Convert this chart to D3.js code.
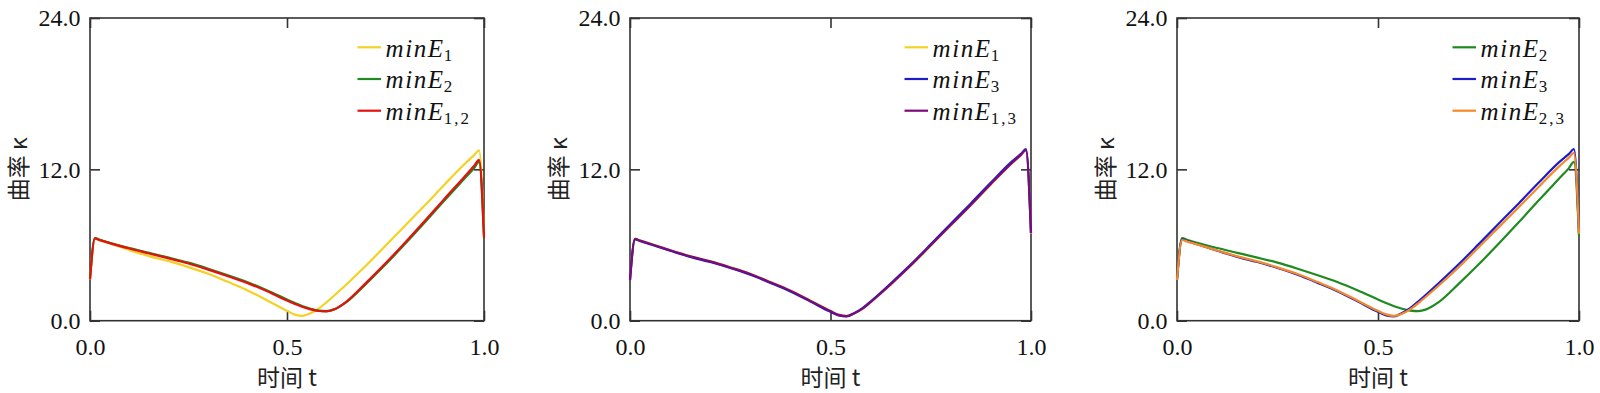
<!DOCTYPE html>
<html><head><meta charset="utf-8">
<script src="https://cdn.jsdelivr.net/npm/d3@7/dist/d3.min.js"></script>
<style>
body{margin:0;background:#fff}
.serif, .serif text { font-family: "Liberation Serif", "Times New Roman", "DejaVu Serif", serif; }
</style>
</head><body>
<svg id="chart" width="1600" height="393"></svg>
<script>
// ---- data ----
const tValues = [0, 0.0125, 0.025, 0.05, 0.1, 0.15, 0.2, 0.25, 0.3, 0.35, 0.4, 0.45, 0.5, 0.52, 0.54, 0.56, 0.58, 0.6, 0.62, 0.65, 0.7, 0.75, 0.8, 0.85, 0.9, 0.95, 0.975, 0.9875, 1.0];
const minE1  = [3.25, 6.5, 6.37, 6.12, 5.6, 5.12, 4.72, 4.25, 3.72, 3.08, 2.4, 1.6, 0.78, 0.48, 0.38, 0.6, 0.95, 1.45, 2.0, 2.85, 4.35, 5.95, 7.55, 9.15, 10.8, 12.4, 13.13, 13.5, 6.9];
const minE2  = [3.3, 6.55, 6.42, 6.18, 5.76, 5.38, 5.0, 4.6, 4.12, 3.6, 3.05, 2.4, 1.68, 1.4, 1.15, 0.95, 0.8, 0.76, 0.9, 1.45, 2.9, 4.45, 6.1, 7.8, 9.55, 11.25, 12.1, 12.6, 6.7];
const minE3  = [3.22, 6.45, 6.32, 6.06, 5.55, 5.06, 4.65, 4.18, 3.64, 3.0, 2.32, 1.52, 0.7, 0.42, 0.34, 0.62, 1.0, 1.52, 2.08, 2.95, 4.45, 6.05, 7.68, 9.3, 10.95, 12.55, 13.23, 13.6, 6.95];
const minE12 = [3.28, 6.52, 6.39, 6.15, 5.72, 5.33, 4.94, 4.53, 4.05, 3.53, 2.98, 2.33, 1.6, 1.33, 1.08, 0.9, 0.77, 0.74, 0.9, 1.5, 2.98, 4.55, 6.2, 7.92, 9.68, 11.4, 12.28, 12.75, 6.55];
const minE13 = [3.24, 6.48, 6.35, 6.1, 5.58, 5.1, 4.7, 4.22, 3.7, 3.05, 2.37, 1.57, 0.76, 0.46, 0.37, 0.6, 0.96, 1.47, 2.02, 2.88, 4.38, 5.98, 7.58, 9.18, 10.84, 12.43, 13.15, 13.52, 6.93];
const minE23 = [3.22, 6.4, 6.28, 6.05, 5.57, 5.1, 4.7, 4.23, 3.7, 3.06, 2.38, 1.58, 0.78, 0.5, 0.38, 0.55, 0.9, 1.38, 1.92, 2.75, 4.22, 5.8, 7.4, 9.0, 10.62, 12.22, 12.93, 13.3, 6.9];
const xTicks = [0, 0.5, 1.0];
const yTicks = [0, 12, 24];
const xLabel = "时间 t";
const yLabel = "曲率 κ";
const panelSeries = [
  [["1", minE1, "#f4d225"], ["2", minE2, "#1f8a1f"], ["1,2", minE12, "#e3120f"]],
  [["1", minE1, "#f4d225"], ["3", minE3, "#1c1ccc"], ["1,3", minE13, "#7b0a7d"]],
  [["2", minE2, "#1f8a1f"], ["3", minE3, "#1c1ccc"], ["2,3", minE23, "#f5892a"]]
];

// ---- layout ----
const panelLeft  = [90, 630, 1177];
const panelWidth = [394, 401, 402];
const PT = 18, PH = 302.7;
const svg = d3.select("#chart");
const frameColor = "#333";

panelSeries.forEach((series, pi) => {
  const PW = panelWidth[pi];
  const x = d3.scaleLinear().domain([0, 1]).range([0, PW]);
  const y = d3.scaleLinear().domain([0, 24]).range([PH, 0]);
  const line = d3.line().x(d => x(d[0])).y(d => y(d[1])).curve(d3.curveMonotoneX);
  const g = svg.append("g").attr("transform", `translate(${panelLeft[pi]},${PT})`);

  function styleAxis(sel) {
    sel.select(".domain").remove();
    sel.selectAll(".tick line").attr("stroke", frameColor).attr("stroke-width", 1.6);
    sel.attr("class", "serif").attr("font-size", 24);
    sel.selectAll(".tick text").attr("fill", "#111");
  }
  g.append("g").attr("transform", `translate(0,${PH})`)
    .call(d3.axisBottom(x).tickValues(xTicks).tickFormat(d3.format(".1f")).tickSize(-10).tickPadding(17))
    .call(styleAxis);
  g.append("g")
    .call(d3.axisTop(x).tickValues(xTicks).tickFormat("").tickSize(-10))
    .call(styleAxis);
  g.append("g")
    .call(d3.axisLeft(y).tickValues(yTicks).tickFormat(d3.format(".1f")).tickSize(-10).tickPadding(9.5))
    .call(styleAxis);
  g.append("g").attr("transform", `translate(${PW},0)`)
    .call(d3.axisRight(y).tickValues(yTicks).tickFormat("").tickSize(-10))
    .call(styleAxis);

  g.append("rect").attr("x", 0).attr("y", 0).attr("width", PW).attr("height", PH)
    .attr("fill", "none").attr("stroke", frameColor).attr("stroke-width", 1.6);

  series.forEach(s => {
    const pts = tValues.map((t, i) => [t, s[1][i]]);
    g.append("path").attr("d", line(pts)).attr("fill", "none")
      .attr("stroke", s[2]).attr("stroke-width", 2.2).attr("stroke-linejoin", "round");
  });

  // legend
  series.forEach((s, i) => {
    const ly = 47.3 - PT + i * 31.7;
    g.append("line").attr("x1", PW - 126.5).attr("x2", PW - 103).attr("y1", ly).attr("y2", ly)
      .attr("stroke", s[2]).attr("stroke-width", 2.2);
    const tx = g.append("text").attr("class", "serif").attr("x", PW - 98.5).attr("y", ly + 9.4)
      .attr("font-size", 25).attr("fill", "#111");
    tx.append("tspan").attr("font-style", "italic").attr("letter-spacing", 1.6).text("minE");
    tx.append("tspan").attr("font-size", 17).attr("dy", 4).attr("dx", -1).attr("letter-spacing", 2).text(s[0]);
  });

  // axis labels
  g.append("text").attr("x", PW / 2).attr("y", 386 - PT).attr("text-anchor", "middle")
    .attr("font-family", "'Noto Sans CJK SC', sans-serif").attr("font-size", 23).attr("fill", "#222")
    .text(xLabel);
  g.append("text").attr("transform", `translate(-63,${PH / 2}) rotate(-90)`).attr("text-anchor", "middle")
    .attr("font-family", "'Noto Sans CJK SC', sans-serif").attr("font-size", 23).attr("fill", "#222")
    .text(yLabel);
});
</script>
</body></html>
